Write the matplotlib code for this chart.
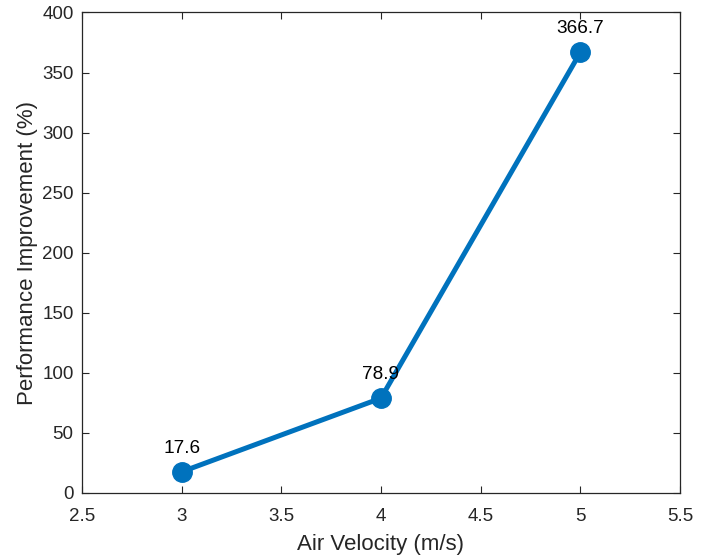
import matplotlib
matplotlib.use('Agg')
import matplotlib.pyplot as plt

# Data
air_velocity = [3, 4, 5]
improvement = [17.6, 78.9, 366.7]
labels = ['17.6', '78.9', '366.7']

plt.rcParams['font.family'] = ['Liberation Sans', 'DejaVu Sans']

fig = plt.figure(figsize=(7.09, 5.57), dpi=100)
ax = fig.add_axes([0.1157, 0.115, 0.8433, 0.8626])

ax.plot(air_velocity, improvement, color='#0072BD', linewidth=3.6,
        marker='o', markersize=14, zorder=3)

for x, y, t in zip(air_velocity, improvement, labels):
    ax.annotate(t, (x, y), xytext=(0, 11), textcoords='offset points',
                ha='center', va='bottom', fontsize=13.7, color='black')

ax.set_xlim(2.5, 5.5)
ax.set_ylim(0, 400)
ax.set_xticks([2.5, 3, 3.5, 4, 4.5, 5, 5.5])
ax.set_xticklabels(['2.5', '3', '3.5', '4', '4.5', '5', '5.5'])
ax.set_yticks(range(0, 401, 50))

ax.set_xlabel('Air Velocity (m/s)', fontsize=16, color='#262626', labelpad=6.5)
ax.set_ylabel('Performance Improvement (%)', fontsize=16, color='#262626', labelpad=3)

ax.tick_params(direction='in', top=True, right=True, length=5, width=0.8,
               colors='#262626', labelsize=13.5)
ax.tick_params(axis='x', pad=11)
ax.tick_params(axis='y', pad=6)
for s in ax.spines.values():
    s.set_color('#262626')
    s.set_linewidth(0.9)

fig.savefig('out.png', dpi=100)
